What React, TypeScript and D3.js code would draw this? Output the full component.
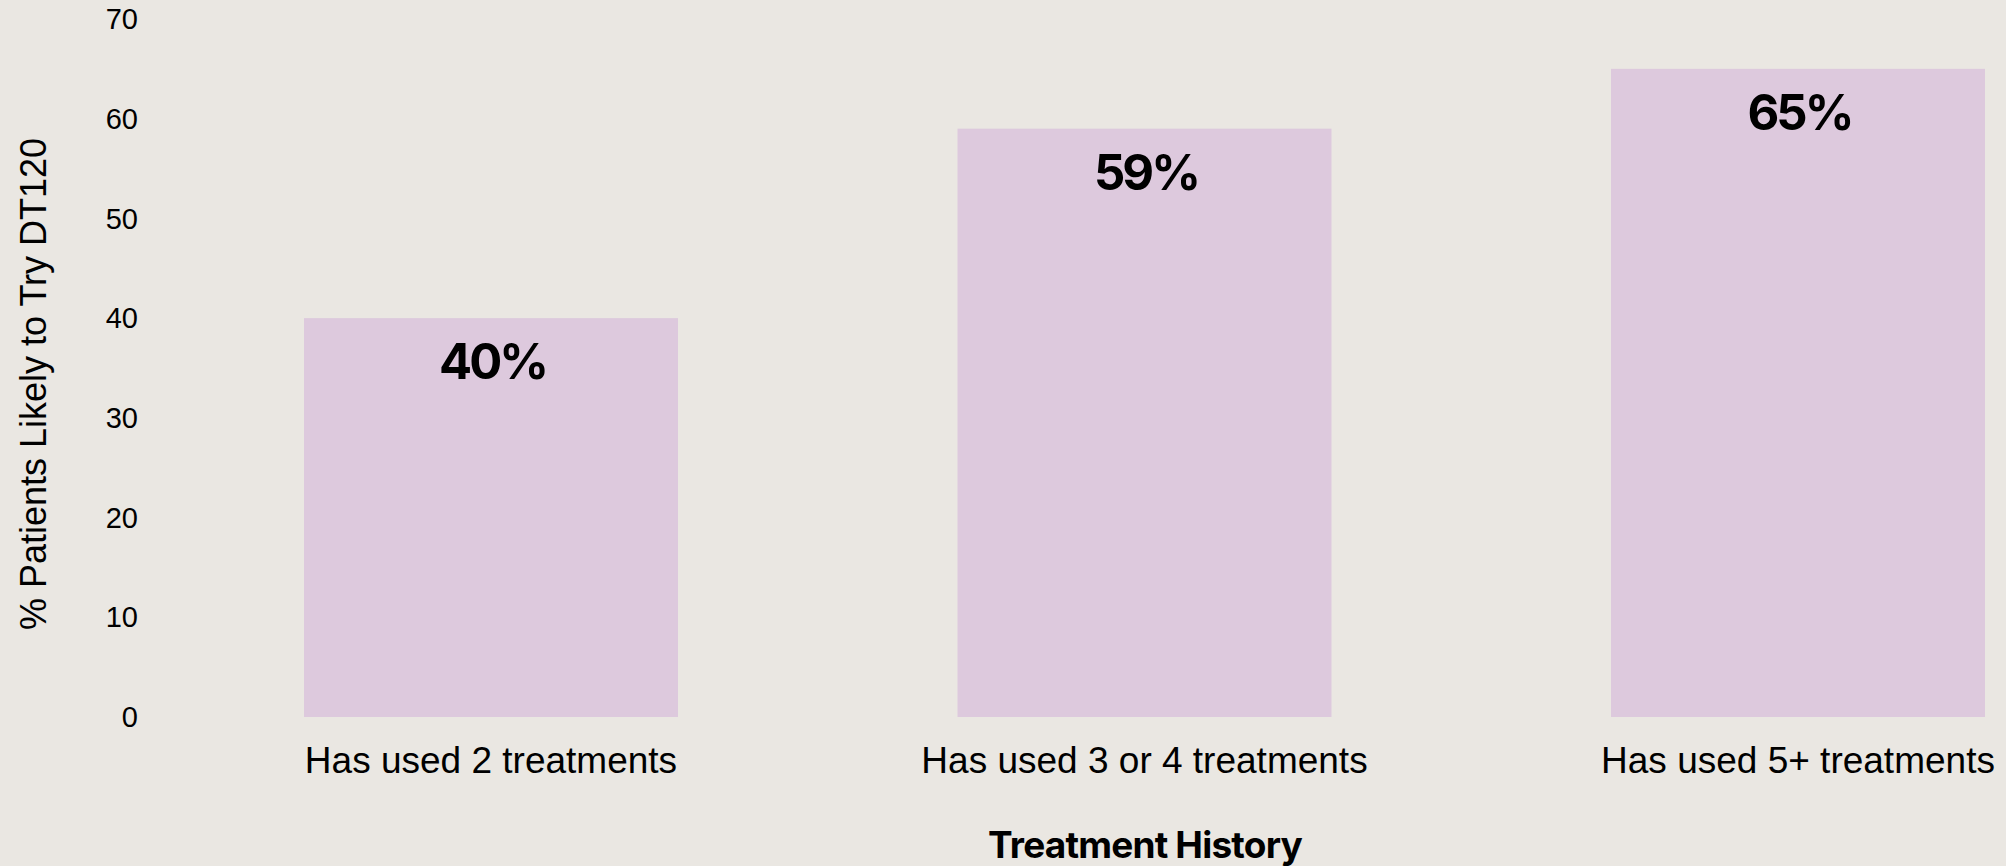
import React, { useEffect } from "react";
import * as d3 from "d3";

const categories = ["Has used 2 treatments", "Has used 3 or 4 treatments", "Has used 5+ treatments"];
const values = [40, 59, 65];
const yTicks = [0, 10, 20, 30, 40, 50, 60, 70];
const yTitle = "% Patients Likely to Try DT120";
const xTitle = "Treatment History";

const W = 2006;
const H = 866;
const BG = "#eae7e2";
const BAR = "#ddc9dd";

export default function App() {
  useEffect(() => {
    document.body.style.margin = "0";
    document.body.style.background = BG;
  }, []);

  const x = d3.scaleBand<string>().domain(categories).range([304, 1985]).paddingInner(0.4277).paddingOuter(0);
  const y = d3.scaleLinear().domain([0, 70]).range([717, 19]);
  const sans = "'Liberation Sans', Arial, sans-serif";
  const bold = "Inter, 'Liberation Sans', Arial, sans-serif";

  return (
    <svg width={W} height={H} style={{ display: "block", background: BG }}>
      <rect x={0} y={0} width={W} height={H} fill={BG} />
      {categories.map((c, i) => (
        <g key={c}>
          <rect x={x(c)} y={y(values[i])} width={x.bandwidth()} height={y(0) - y(values[i])} fill={BAR} />
          <text
            x={(x(c) as number) + x.bandwidth() / 2 + 1.5}
            y={y(values[i]) + 61}
            textAnchor="middle"
            fontFamily={bold}
            fontWeight={700}
            fontSize={49}
            letterSpacing={-3}
            fill="#000"
          >
            {values[i]}%
          </text>
          <text
            x={(x(c) as number) + x.bandwidth() / 2}
            y={773}
            textAnchor="middle"
            fontFamily={sans}
            fontSize={37}
            fill="#000"
          >
            {c}
          </text>
        </g>
      ))}
      {yTicks.map((t) => (
        <text key={t} x={138} y={y(t)} dy="0.35em" textAnchor="end" fontFamily={sans} fontSize={29} fill="#000">
          {t}
        </text>
      ))}
      <text
        transform={`translate(46,384) rotate(-90)`}
        textAnchor="middle"
        fontFamily={sans}
        fontSize={36}
        fill="#000"
      >
        {yTitle}
      </text>
      <text x={1145} y={858} textAnchor="middle" fontFamily={bold} fontWeight={700} fontSize={37} fill="#000" letterSpacing={-0.8}>
        {xTitle}
      </text>
    </svg>
  );
}
